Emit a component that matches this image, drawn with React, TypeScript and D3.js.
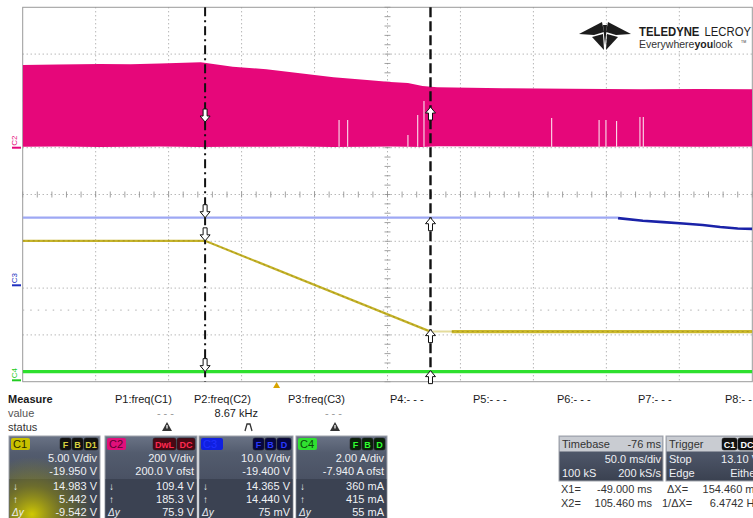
import React from 'react';
import * as d3 from 'd3';

const W = 753, H = 518;
const PLOT = { left: 22.7, right: 752.3, top: 7.3, bottom: 381.7 };
const FONT = 'Liberation Sans, Arial, sans-serif';

// time axis (ms)
const T_DOMAIN = [-174, 326];
const X1_T = -49.0;
const X2_T = 105.46;
const TRIG_T = 0;

// C1 yellow (5 V/div, offset -19.95 V)
const c1Times = [-174, -49, 105.46];
const c1Volts = [15.0, 15.0, 5.3];
const c1FaintTimes = [105.46, 120];
const c1FaintVolts = [5.3, 5.3];
const c1TailTimes = [120, 326];
const c1TailVolts = [5.3, 5.3];

// C2 magenta envelope (200 V/div, offset 200 V)
const c2Times = [-174, -150, -121, -100, -80, -52, -30, -7, 16, 39, 62, 78, 90, 100, 110, 155, 200, 250, 290, 326];
const c2Top = [353, 356, 358, 357, 360, 365, 346, 335, 318, 301, 289, 281, 276, 264, 258, 254, 252, 250, 251, 250];
const c2Bottom = [4, 5, 3, 4, 5, 3, 4, 4, 5, 3, 4, 5, 4, 3, 6, 5, 4, 5, 4, 5];
const c2GapTimes = [42.8, 48.7, 90, 96.7, 101, 188.5, 221, 225.7, 233, 249, 251.3];
const c2GapTops = [118, 118, 54, 140, 200, 127, 118, 118, 114, 131, 131];

// C3 blue (10 V/div, offset -19.4 V)
const c3Times = [-174, 234];
const c3Volts = [14.44, 14.44];
const c3DarkTimes = [234, 251, 265, 278.5, 292, 304, 316, 326];
const c3DarkVolts = [14.36, 13.8, 13.5, 13.2, 12.88, 12.46, 12.15, 12.05];

// C4 green (2 A/div, offset -7.94 A)
const c4Times = [-174, 326];
const c4Amps = [0.37, 0.37];

// faint reference row (divisions)
const refTimes = [-174, 326];
const refDivs = [-2.47, -2.47];

// Measure panel
const measureHeaders = ['P1:freq(C1)', 'P2:freq(C2)', 'P3:freq(C3)', 'P4:- - -', 'P5:- - -', 'P6:- - -', 'P7:- - -', 'P8:- -'];
const measureX = [115, 194, 288, 390, 473, 557, 638, 725];
const measureValues = ['- - -', '8.67 kHz', '- - -'];
const measureValueRight = [174, 258, 342];

const c1Lines = ['5.00 V/div', '-19.950 V', '14.983 V', '5.442 V', '-9.542 V'];
const c2Lines = ['200 V/div', '200.0 V ofst', '109.4 V', '185.3 V', '75.9 V'];
const c3Lines = ['10.0 V/div', '-19.400 V', '14.365 V', '14.440 V', '75 mV'];
const c4Lines = ['2.00 A/div', '-7.940 A ofst', '360 mA', '415 mA', '55 mA'];

const x = d3.scaleLinear().domain(T_DOMAIN).range([PLOT.left, PLOT.right]);
const yDiv = d3.scaleLinear().domain([-4, 4]).range([PLOT.bottom, PLOT.top]);
const chan = (perDiv: number, offset: number) =>
  d3.scaleLinear().domain([-4 * perDiv - offset, 4 * perDiv - offset]).range([PLOT.bottom, PLOT.top]);
const y1 = chan(5, -19.95);
const y2 = chan(200, 200);
const y3 = chan(10, -19.4);
const y4 = chan(2, -7.94);

const xDivs = d3.scaleLinear().domain([0, 10]).range([PLOT.left, PLOT.right]);

function linePath(ts: number[], vs: number[], ys: d3.ScaleLinear<number, number>) {
  const g = d3.line<number>().x((_, i) => x(ts[i])).y((_, i) => ys(vs[i]));
  return g(ts) || '';
}

function Arrow({ cx, tip, dir, fill = 'white' }: { cx: number; tip: number; dir: 'down' | 'up'; fill?: string }) {
  const s = dir === 'down' ? -1 : 1;
  const head = `M${cx - 5},${tip + s * 6} L${cx},${tip} L${cx + 5},${tip + s * 6} L${cx + 2},${tip + s * 6} L${cx + 2},${tip + s * 13} L${cx - 2},${tip + s * 13} L${cx - 2},${tip + s * 6} Z`;
  return <path d={head} fill={fill} stroke="#111" strokeWidth={1} />;
}

function Badge({ bx, by, w, fill, text, color }: any) {
  return (
    <g>
      <rect x={bx} y={by} width={w} height={12} rx={2} fill={fill} stroke="#222" strokeWidth={0.5} />
      <text x={bx + w / 2} y={by + 10} textAnchor="middle" fontSize={9} fontWeight="bold" fill={color} fontFamily={FONT}>{text}</text>
    </g>
  );
}

function ChannelBox({ bx, w, label, labelFill, labelColor, labelW, badges, badgeFill, badgeColor, lines, glow }: any) {
  const top = 436;
  const right = bx + w;
  let cur = right - 2;
  const badgeEls = [...badges].reverse().map((b: any, i: number) => {
    cur -= b.w;
    const el = <Badge key={i} bx={cur} by={438} w={b.w} fill={badgeFill} text={b.t} color={badgeColor} />;
    cur -= 1;
    return el;
  });
  const base = [462, 475, 490, 503, 516];
  return (
    <g fontFamily={FONT}>
      <rect x={bx} y={top} width={w} height={H - top + 2} fill="url(#boxGrad)" stroke="#a0a4ac" strokeWidth={1} />
      <rect x={bx + 0.5} y={479} width={w - 1} height={H - 479} fill="#3b4252" />
      {glow && <rect x={bx + 0.5} y={top + 0.5} width={w - 1} height={H - top} fill="url(#glowC1)" />}
      <rect x={bx + 2} y={438} width={labelW} height={12} rx={2} fill={labelFill} />
      <text x={bx + 4} y={448} fontSize={11} fill={labelColor}>{label}</text>
      {badgeEls}
      {lines.map((t: string, i: number) => (
        <text key={i} x={right - 3} y={base[i]} textAnchor="end" fontSize={11} fill="#eef0f4">{t}</text>
      ))}
      <text x={bx + 4} y={490} fontSize={10} fill="#eef0f4">↓</text>
      <text x={bx + 4} y={503} fontSize={10} fill="#eef0f4">↑</text>
      <text x={bx + 3} y={516} fontSize={10} fontStyle="italic" fill="#eef0f4">Δy</text>
    </g>
  );
}

function Warn({ cx, cy }: { cx: number; cy: number }) {
  return (
    <g>
      <path d={`M${cx},${cy - 5} L${cx + 5},${cy + 4} L${cx - 5},${cy + 4} Z`} fill="#333" />
      <rect x={cx - 0.6} y={cy - 2} width={1.2} height={3.5} fill="#fff" />
    </g>
  );
}

export default function App() {
  const vLines = d3.range(1, 10).map((i) => xDivs(i));
  const hLines = d3.range(-3, 4).map((j) => yDiv(j));
  const xc = xDivs(5);
  const yc = yDiv(0);
  const hTicks = d3.range(0, 51).map((i) => xDivs(i / 5));
  const vTicks = d3.range(0, 41).map((i) => yDiv(-4 + i / 5));

  const area = d3
    .area<number>()
    .x((_, i) => x(c2Times[i]))
    .y0((_, i) => y2(c2Bottom[i]))
    .y1((_, i) => y2(c2Top[i]));

  const x1 = x(X1_T);
  const x2 = x(X2_T);

  return (
    <svg width={W} height={H} style={{ position: 'absolute', left: 0, top: 0, background: '#fff' }}>
      <defs>
        <linearGradient id="boxGrad" x1="0" y1="0" x2="0" y2="1">
          <stop offset="0" stopColor="#6a7386" />
          <stop offset="0.2" stopColor="#535c6e" />
          <stop offset="0.5" stopColor="#4a5264" />
          <stop offset="1" stopColor="#3a4150" />
        </linearGradient>
        <radialGradient id="glowC1" cx="0.25" cy="0.95" r="0.7">
          <stop offset="0" stopColor="#d8d000" stopOpacity={0.95} />
          <stop offset="0.5" stopColor="#a8a000" stopOpacity={0.45} />
          <stop offset="1" stopColor="#a8a000" stopOpacity={0} />
        </radialGradient>
        <clipPath id="plotClip">
          <rect x={PLOT.left} y={PLOT.top} width={PLOT.right - PLOT.left} height={PLOT.bottom - PLOT.top} />
        </clipPath>
      </defs>
      <rect x={0} y={0} width={W} height={H} fill="#fff" />

      {/* grid */}
      <g stroke="#8c8c8c" strokeWidth={0.9} strokeDasharray="1,3">
        {vLines.map((v, i) => <line key={'v' + i} x1={v} x2={v} y1={PLOT.top} y2={PLOT.bottom} />)}
        {hLines.map((h, i) => <line key={'h' + i} x1={PLOT.left} x2={PLOT.right} y1={h} y2={h} />)}
      </g>
      <g stroke="#8a8a8a" strokeWidth={0.8}>
        {hTicks.map((t, i) => <line key={'ht' + i} x1={t} x2={t} y1={yc - 3} y2={yc + 3} />)}
        {vTicks.map((t, i) => <line key={'vt' + i} x1={xc - 3} x2={xc + 3} y1={t} y2={t} />)}
      </g>
      <rect x={PLOT.left} y={PLOT.top} width={PLOT.right - PLOT.left} height={PLOT.bottom - PLOT.top} fill="none" stroke="#9a9a9a" strokeWidth={1} />
      <path d={(d3.line<number>().x((_, i) => x(refTimes[i])).y((_, i) => yDiv(refDivs[i])))(refTimes) || ''} stroke="#c0c0c0" strokeWidth={1.2} strokeDasharray="1.5,6" fill="none" />

      {/* logo */}
      <g fill="#1c1c1c">
        <path d="M579,34 L602,22 L604,32 L594,35 Z" />
        <path d="M631,34 L608,22 L606,32 L616,35 Z" />
        <path d="M592,37 L603,34 L604,50 Z" />
        <path d="M618,37 L607,34 L606,50 Z" />
        <path d="M603,25 L607,25 L605,45 Z" />
        <g transform="translate(639,35.5) scale(0.84,1)" fontFamily={FONT} fontSize={13.5}>
          <text x={0} y={0} fontWeight="bold">TELEDYNE</text>
          <text x={78} y={0}>LECROY</text>
        </g>
        <text x={639} y={48} fontSize={10.5} fontFamily={FONT} fill="#333">
          Everywhere<tspan fontWeight="bold" fill="#1c1c1c">you</tspan>look
        </text>
        <text x={741} y={43} fontSize={3.5} fontFamily={FONT} fill="#333">TM</text>
      </g>

      <g clipPath="url(#plotClip)">
        {/* C2 */}
        <path d={area(c2Times) || ''} fill="#e6077a" />
        <g stroke="#fbe0ec" strokeWidth={1.1}>
          {c2GapTimes.map((t, i) => (
            <line key={i} x1={x(t)} x2={x(t)} y1={y2(c2GapTops[i])} y2={y2(4)} />
          ))}
        </g>
        {/* C3 */}
        <path d={linePath(c3Times, c3Volts, y3)} stroke="#9ea8f4" strokeWidth={2.2} fill="none" />
        <path d={linePath(c3DarkTimes, c3DarkVolts, y3)} stroke="#1a22a8" strokeWidth={2.6} fill="none" />
        {/* C1 */}
        <path d={linePath(c1Times, c1Volts, y1)} stroke="#c6b42a" strokeWidth={2.2} fill="none" />
        <path d={linePath(c1Times, c1Volts, y1)} stroke="#9c8a18" strokeWidth={0.8} strokeDasharray="2,3" fill="none" />
        <path d={linePath(c1FaintTimes, c1FaintVolts, y1)} stroke="#e4dc9c" strokeWidth={2} fill="none" />
        <path d={linePath(c1TailTimes, c1TailVolts, y1)} stroke="#cbb92c" strokeWidth={3.4} fill="none" />
        <path d={linePath(c1TailTimes, c1TailVolts, y1)} stroke="#a09020" strokeWidth={0.8} strokeDasharray="2,3" fill="none" />
        {/* C4 */}
        <path d={linePath(c4Times, c4Amps, y4)} stroke="#2ee02e" strokeWidth={3.2} fill="none" />
      </g>

      {/* cursors */}
      <line x1={x1} x2={x1} y1={PLOT.top} y2={PLOT.bottom} stroke="#111" strokeWidth={2} strokeDasharray="9,4,2,4" />
      <line x1={x2} x2={x2} y1={PLOT.top} y2={PLOT.bottom} stroke="#111" strokeWidth={2.4} strokeDasharray="10,4" />
      <Arrow cx={x1} tip={y2(-10) - 28} dir="down" />
      <Arrow cx={x1} tip={y3(14.44)} dir="down" />
      <Arrow cx={x1} tip={y1(15.0)} dir="down" />
      <Arrow cx={x1} tip={y4(0.37)} dir="down" />
      <Arrow cx={x2} tip={y2(-10) - 43} dir="up" />
      <Arrow cx={x2} tip={y3(14.44)} dir="up" />
      <Arrow cx={x2} tip={y1(5.3) - 2} dir="up" />
      <Arrow cx={x2} tip={y4(0.37) - 1} dir="up" />

      {/* channel ground markers */}
      <g fontFamily={FONT} fontSize={8}>
        <line x1={12} x2={21} y1={y2(0)} y2={y2(0)} stroke="#e6077a" strokeWidth={2} />
        <text transform={`translate(17,${y2(0) - 2}) rotate(-90)`} fill="#e6077a">C2</text>
        <line x1={12} x2={21} y1={y3(0)} y2={y3(0)} stroke="#2030c0" strokeWidth={2} />
        <text transform={`translate(17,${y3(0) - 2}) rotate(-90)`} fill="#2030c0">C3</text>
        <line x1={12} x2={21} y1={y4(0)} y2={y4(0)} stroke="#22cc22" strokeWidth={2} />
        <text transform={`translate(17,${y4(0) - 2}) rotate(-90)`} fill="#22cc22">C4</text>
      </g>

      {/* trigger marker */}
      <path d={`M${x(TRIG_T) - 3.5},388 L${x(TRIG_T)},382 L${x(TRIG_T) + 3.5},388 Z`} fill="#d8a400" />

      {/* measure table */}
      <g fontFamily={FONT} fontSize={11} fill="#1a1a1a">
        <text x={8} y={403} fontWeight="bold">Measure</text>
        <text x={8} y={417} fill="#555">value</text>
        <text x={8} y={431} fill="#333">status</text>
        {measureHeaders.map((h, i) => (
          <text key={i} x={measureX[i]} y={403}>{h}</text>
        ))}
        {measureValues.map((v, i) => (
          <text key={i} x={measureValueRight[i]} y={417} textAnchor="end" fill={i === 1 ? '#1a1a1a' : '#999'}>{v}</text>
        ))}
      </g>
      <Warn cx={167} cy={427} />
      <path d="M245,431 L247,424 L250,424 L252,431" stroke="#333" strokeWidth={1.3} fill="none" />
      <Warn cx={335} cy={427} />

      <ChannelBox bx={9} w={91} label="C1" labelFill="#c8c000" labelColor="#2a2a00" labelW={19}
        badges={[{ t: 'F', w: 11 }, { t: 'B', w: 11 }, { t: 'D1', w: 14 }]} badgeFill="#111" badgeColor="#d8d040" lines={c1Lines} glow />
      <ChannelBox bx={105} w={92} label="C2" labelFill="#e0107a" labelColor="#5a0030" labelW={19}
        badges={[{ t: 'DwL', w: 23 }, { t: 'DC', w: 18 }]} badgeFill="#4a0814" badgeColor="#ff2a50" lines={c2Lines} />
      <ChannelBox bx={199} w={94} label="C3" labelFill="#1020e0" labelColor="#2030ff" labelW={22}
        badges={[{ t: 'F', w: 11 }, { t: 'B', w: 11 }, { t: 'D', w: 14 }]} badgeFill="#060640" badgeColor="#2a3aff" lines={c3Lines} />
      <ChannelBox bx={296} w={91} label="C4" labelFill="#30e030" labelColor="#0a4a0a" labelW={19}
        badges={[{ t: 'F', w: 11 }, { t: 'B', w: 11 }, { t: 'D', w: 11 }]} badgeFill="#0a200a" badgeColor="#30ff30" lines={c4Lines} />

      {/* timebase / trigger */}
      <g fontFamily={FONT} fontSize={11}>
        <rect x={559} y={436} width={104} height={45} fill="url(#boxGrad)" stroke="#a0a4ac" />
        <rect x={559.5} y={436.5} width={103} height={15} fill="#c9ccd2" />
        <text x={562} y={448} fill="#333">Timebase</text>
        <text x={661} y={448} textAnchor="end" fill="#333">-76 ms</text>
        <text x={661} y={463} textAnchor="end" fill="#eef0f4">50.0 ms/div</text>
        <text x={562} y={477} fill="#eef0f4">100 kS</text>
        <text x={661} y={477} textAnchor="end" fill="#eef0f4">200 kS/s</text>

        <rect x={666} y={436} width={92} height={45} fill="url(#boxGrad)" stroke="#a0a4ac" />
        <rect x={666.5} y={436.5} width={91} height={15} fill="#c9ccd2" />
        <text x={669} y={448} fill="#333">Trigger</text>
        <Badge bx={722} by={438} w={15} fill="#111" text="C1" color="#fff" />
        <Badge bx={738} by={438} w={18} fill="#111" text="DC" color="#fff" />
        <text x={669} y={463} fill="#eef0f4">Stop</text>
        <text x={759} y={463} textAnchor="end" fill="#eef0f4">13.10 V</text>
        <text x={669} y={477} fill="#eef0f4">Edge</text>
        <text x={759} y={477} textAnchor="end" fill="#eef0f4">Either</text>

        <g fill="#333">
          <text x={561} y={493}>X1=</text>
          <text x={652} y={493} textAnchor="end">-49.000 ms</text>
          <text x={561} y={507}>X2=</text>
          <text x={652} y={507} textAnchor="end">105.460 ms</text>
          <text x={667} y={493}>ΔX=</text>
          <text x={760} y={493} textAnchor="end">154.460 ms</text>
          <text x={662} y={507}>1/ΔX=</text>
          <text x={760} y={507} textAnchor="end">6.4742 Hz</text>
        </g>
      </g>
    </svg>
  );
}
